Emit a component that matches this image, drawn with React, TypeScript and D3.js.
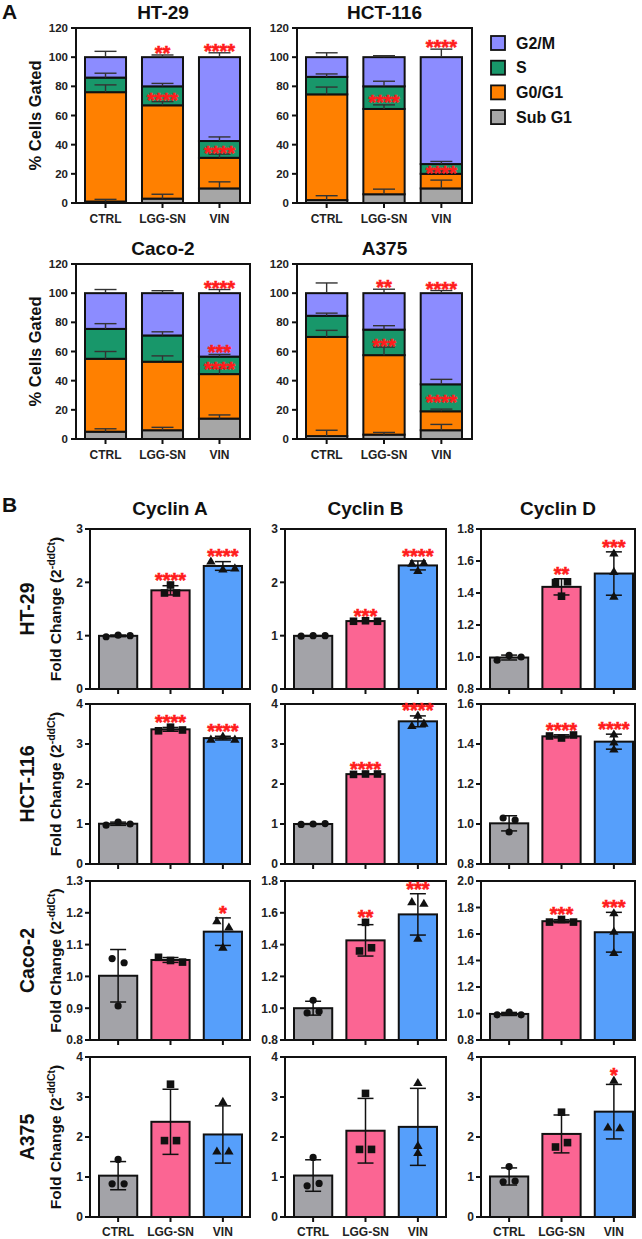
import React from "react";
import * as d3 from "d3";

const FONT = "'Liberation Sans', Arial, Helvetica, sans-serif";

// ---------- Panel A data ----------
const groups = ["CTRL", "LGG-SN", "VIN"];
const phases = ["Sub G1", "G0/G1", "S", "G2/M"];
const phaseColors = ["#a6a6a6", "#ff8000", "#18976a", "#8c8cff"];
const cellLinesA = ["HT-29", "HCT-116", "Caco-2", "A375"];
const yTicksA = [0, 20, 40, 60, 80, 100, 120];

// % cells per phase [Sub G1, G0/G1, S, G2/M] for CTRL, LGG-SN, VIN
const ht29Phases = [[1, 75, 10, 14], [3, 64, 13, 20], [10, 21, 11.5, 57.5]];
const ht29PhasesSD = [[1.5, 5, 3, 4], [3, 2.5, 2, 1.5], [4.5, 2.5, 2.8, 3]];
const hct116Phases = [[2, 72.5, 12, 13.5], [6, 58.5, 15.5, 20], [10, 10, 6.7, 73.3]];
const hct116PhasesSD = [[3, 5, 2, 3], [3.5, 2.8, 3.5, 1], [5.7, 2, 1.8, 5.5]];
const caco2Phases = [[5, 50, 20.5, 24.5], [6, 47, 18, 29], [14, 30.5, 12, 43.5]];
const caco2PhasesSD = [[2, 5, 3.6, 2.5], [2, 4, 2.5, 1.7], [2.5, 4, 1.5, 2.5]];
const a375Phases = [[2, 68, 14.5, 15.5], [3, 54.5, 17.5, 25], [6, 13, 18.5, 62.5]];
const a375PhasesSD = [[4, 4.5, 1.8, 7], [1.5, 5.5, 2.7, 2.7], [4, 1.5, 3.4, 1.8]];

// significance marks: [cell, group, phase, label, placement]
const sigA: [number, number, number, string, string][] = [
  [0, 1, 3, "**", "top"], [0, 2, 3, "****", "top"], [0, 1, 2, "****", "in"], [0, 2, 2, "****", "in"],
  [1, 2, 3, "****", "top"], [1, 1, 2, "****", "in"], [1, 2, 2, "****", "in"],
  [2, 2, 3, "****", "top"], [2, 2, 2, "***", "top"], [2, 2, 2, "****", "in"],
  [3, 1, 3, "**", "top"], [3, 2, 3, "****", "top"], [3, 1, 2, "***", "in"], [3, 2, 2, "****", "in"],
];

// ---------- Panel B data ----------
const cyclins = ["Cyclin A", "Cyclin B", "Cyclin D"];
const cellLinesB = ["HT-29", "HCT-116", "Caco-2", "A375"];
const groupColorsB = ["#a3a3a8", "#fb6593", "#569ffb"];

// replicate fold changes (3 per group) for CTRL, LGG-SN, VIN
const ht29CyclinA = [[0.98, 1.01, 1.0], [1.95, 1.8, 1.8], [2.4, 2.25, 2.27]];
const ht29CyclinB = [[0.99, 1.0, 1.0], [1.27, 1.28, 1.27], [2.36, 2.37, 2.22]];
const ht29CyclinD = [[0.98, 1.01, 1.0], [1.465, 1.47, 1.38], [1.535, 1.65, 1.38]];
const hct116CyclinA = [[0.97, 1.05, 1.0], [3.33, 3.42, 3.35], [3.12, 3.2, 3.12]];
const hct116CyclinB = [[0.99, 1.0, 1.01], [2.24, 2.25, 2.25], [3.46, 3.52, 3.72]];
const hct116CyclinD = [[1.03, 1.02, 0.96], [1.44, 1.43, 1.445], [1.45, 1.375, 1.41]];
const caco2CyclinA = [[1.056, 1.043, 0.907], [1.06, 1.05, 1.045], [1.175, 1.155, 1.092]];
const caco2CyclinB = [[1.05, 0.97, 0.98], [1.54, 1.36, 1.38], [1.67, 1.66, 1.44]];
const caco2CyclinD = [[0.99, 1.01, 0.99], [1.69, 1.71, 1.69], [1.76, 1.62, 1.46]];
const a375CyclinA = [[1.44, 0.83, 0.83], [3.32, 1.91, 1.91], [2.89, 1.65, 1.65]];
const a375CyclinB = [[1.49, 0.78, 0.84], [3.09, 1.69, 1.69], [3.36, 1.79, 1.61]];
const a375CyclinD = [[1.26, 0.88, 0.9], [2.62, 1.75, 1.86], [3.42, 2.25, 2.23]];

// y tick labels per row: [Cyclin A, Cyclin B, Cyclin D]
const ht29TicksB = [[0, 1, 2, 3], [0, 1, 2, 3], [0.8, 1.0, 1.2, 1.4, 1.6, 1.8]];
const hct116TicksB = [[0, 1, 2, 3, 4], [0, 1, 2, 3, 4], [0.8, 1.0, 1.2, 1.4, 1.6]];
const caco2TicksB = [[0.8, 0.9, 1.0, 1.1, 1.2, 1.3], [0.8, 1.0, 1.2, 1.4, 1.6, 1.8], [0.8, 1.0, 1.2, 1.4, 1.6, 1.8, 2.0]];
const a375TicksB = [[0, 1, 2, 3, 4], [0, 1, 2, 3, 4], [0, 1, 2, 3, 4]];

// significance marks: [row, col, group, label]
const sigB: [number, number, number, string][] = [
  [0, 0, 1, "****"], [0, 0, 2, "****"], [0, 1, 1, "***"], [0, 1, 2, "****"], [0, 2, 1, "**"], [0, 2, 2, "***"],
  [1, 0, 1, "****"], [1, 0, 2, "****"], [1, 1, 1, "****"], [1, 1, 2, "****"], [1, 2, 1, "****"], [1, 2, 2, "****"],
  [2, 0, 2, "*"], [2, 1, 1, "**"], [2, 1, 2, "***"], [2, 2, 1, "***"], [2, 2, 2, "***"],
  [3, 2, 2, "*"],
];

// ---------- tables built from arrays ----------
const phaseTable = [ht29Phases, hct116Phases, caco2Phases, a375Phases];
const phaseSDTable = [ht29PhasesSD, hct116PhasesSD, caco2PhasesSD, a375PhasesSD];
const cyclinTable = [
  [ht29CyclinA, ht29CyclinB, ht29CyclinD],
  [hct116CyclinA, hct116CyclinB, hct116CyclinD],
  [caco2CyclinA, caco2CyclinB, caco2CyclinD],
  [a375CyclinA, a375CyclinB, a375CyclinD],
];
const tickTable = [ht29TicksB, hct116TicksB, caco2TicksB, a375TicksB];

// ---------- layout ----------
const W = 642, H = 1239;
const frameAX = [[76, 250], [297, 472]];
const frameAY = [[28, 203], [264, 439]];
const frameBX = [[90, 250], [285, 446], [481, 635]];
const frameBY = [[529, 689], [704, 864], [881, 1040], [1057, 1217]];
const STAR_FS = 20;
const RED = "#ff1c1c";

function Stars({ x, cy, label }: { x: number; cy: number; label: string }) {
  return (
    <text x={x} y={cy + STAR_FS * 0.6} textAnchor="middle" fontSize={STAR_FS} fontWeight="bold" fill={RED}
      stroke={RED} strokeWidth={0.6} fontFamily={FONT}>
      {label}
    </text>
  );
}

function PanelA() {
  const out: any[] = [];
  cellLinesA.forEach((cell, ci) => {
    const col = ci % 2, row = Math.floor(ci / 2);
    const [x0, x1] = frameAX[col];
    const [y0, y1] = frameAY[row];
    const y = d3.scaleLinear().domain([0, 120]).range([y1, y0]);
    const x = d3.scaleBand().domain(groups).range([x0 + 9, x1 - 10]).paddingInner(0.28);
    const bw = x.bandwidth();
    const vals = phaseTable[ci];
    const sds = phaseSDTable[ci];
    const tops = vals.map((v) => d3.cumsum(v));
    const g: any[] = [];
    g.push(<rect key="f" x={x0} y={y0} width={x1 - x0} height={y1 - y0} fill="none" stroke="#111" strokeWidth={2} />);
    groups.forEach((gr, gi) => {
      const bx = x(gr)!;
      vals[gi].forEach((v, pi) => {
        const top = tops[gi][pi];
        const bottom = top - v;
        g.push(
          <rect key={`r${gi}-${pi}`} x={bx} y={y(top)} width={bw} height={y(bottom) - y(top)}
            fill={phaseColors[pi]} stroke="#111" strokeWidth={2} />
        );
      });
    });
    groups.forEach((gr, gi) => {
      const cx = x(gr)! + bw / 2;
      vals[gi].forEach((v, pi) => {
        const top = tops[gi][pi];
        const e = sds[gi][pi];
        g.push(
          <g key={`e${gi}-${pi}`} stroke="#333" strokeWidth={1.4}>
            <line x1={cx} x2={cx} y1={y(top)} y2={y(top + e)} />
            <line x1={cx - 11} x2={cx + 11} y1={y(top + e)} y2={y(top + e)} />
          </g>
        );
      });
    });
    yTicksA.forEach((t) => {
      g.push(<line key={`yt${t}`} x1={x0 - 5} x2={x0} y1={y(t)} y2={y(t)} stroke="#111" strokeWidth={2} />);
      g.push(
        <text key={`yl${t}`} x={x0 - 8} y={y(t)} dy="0.36em" textAnchor="end" fontSize={11.5} fontWeight="bold" fontFamily={FONT} fill="#222">
          {t}
        </text>
      );
    });
    groups.forEach((gr) => {
      const cx = x(gr)! + bw / 2;
      g.push(<line key={`xt${gr}`} x1={cx} x2={cx} y1={y1} y2={y1 + 5} stroke="#111" strokeWidth={2} />);
      g.push(
        <text key={`xl${gr}`} x={cx} y={y1 + 20} textAnchor="middle" fontSize={12} fontWeight="bold" fontFamily={FONT} fill="#222">
          {gr}
        </text>
      );
    });
    g.push(
      <text key="title" x={(x0 + x1) / 2} y={y0 - 9} textAnchor="middle" fontSize={19} fontWeight="bold" fontFamily={FONT} fill="#111">
        {cell}
      </text>
    );
    if (col === 0) {
      g.push(
        <text key="ylab" transform={`translate(41,${(y0 + y1) / 2}) rotate(-90)`} textAnchor="middle" fontSize={16.5} fontWeight="bold" fontFamily={FONT} fill="#111">
          % Cells Gated
        </text>
      );
    }
    sigA.filter((s) => s[0] === ci).forEach((s, k) => {
      const [, gi, pi, label, place] = s;
      const cx = x(groups[gi])! + bw / 2;
      const top = tops[gi][pi];
      let cy: number;
      if (place === "top") cy = y(top + sds[gi][pi]) - 7;
      else cy = (y(top) + y(top - vals[gi][pi])) / 2 - 1;
      g.push(<Stars key={`s${k}`} x={cx} cy={cy} label={label} />);
    });
    out.push(<g key={cell}>{g}</g>);
  });
  const legendOrder = [3, 2, 1, 0];
  legendOrder.forEach((pi, i) => {
    const cy = 43 + i * 24.7;
    out.push(
      <g key={`leg${pi}`}>
        <rect x={491} y={cy - 7} width={14} height={14} fill={phaseColors[pi]} stroke="#111" strokeWidth={1.8} />
        <text x={516} y={cy} dy="0.36em" fontSize={16} fontWeight="bold" fontFamily={FONT} fill="#111">
          {phases[pi]}
        </text>
      </g>
    );
  });
  out.push(
    <text key="A" x={2} y={19} fontSize={21} fontWeight="bold" fontFamily={FONT} fill="#111">A</text>
  );
  return <g>{out}</g>;
}

function Marker({ kind, x, y }: { kind: number; x: number; y: number }) {
  if (kind === 0) return <circle cx={x} cy={y} r={3.6} fill="#111" />;
  if (kind === 1) return <rect x={x - 3.8} y={y - 3.8} width={7.6} height={7.6} fill="#111" />;
  const p = d3.symbol().type(d3.symbolTriangle).size(38)()!;
  return <path d={p} transform={`translate(${x},${y + 0.8})`} fill="#111" />;
}

function PanelB() {
  const out: any[] = [];
  cellLinesB.forEach((cell, ri) => {
    const [y0, y1] = frameBY[ri];
    cyclins.forEach((cyc, ci) => {
      const [x0, x1] = frameBX[ci];
      const ticks = tickTable[ri][ci];
      const dom = d3.extent(ticks) as [number, number];
      const y = d3.scaleLinear().domain(dom).range([y1, y0]);
      const x = d3.scaleBand().domain(groups).range([x0 + 9, x0 + 152]).paddingInner(0.27);
      const bw = x.bandwidth();
      const fmt = ticks.some((t) => !Number.isInteger(t)) ? d3.format(".1f") : d3.format("d");
      const data = cyclinTable[ri][ci];
      const g: any[] = [];
      g.push(<rect key="f" x={x0} y={y0} width={x1 - x0} height={y1 - y0} fill="none" stroke="#111" strokeWidth={2} />);
      const stats = data.map((pts) => ({ m: d3.mean(pts)!, sd: d3.deviation(pts)! }));
      groups.forEach((gr, gi) => {
        const bx = x(gr)!;
        const { m } = stats[gi];
        g.push(
          <rect key={`b${gi}`} x={bx} y={y(m)} width={bw} height={y1 - y(m)} fill={groupColorsB[gi]} stroke="#111" strokeWidth={2} />
        );
      });
      groups.forEach((gr, gi) => {
        const cx = x(gr)! + bw / 2;
        const { m, sd } = stats[gi];
        const lo = Math.max(m - sd, dom[0]);
        g.push(
          <g key={`e${gi}`} stroke="#111" strokeWidth={1.5}>
            <line x1={cx} x2={cx} y1={y(lo)} y2={y(m + sd)} />
            <line x1={cx - 8} x2={cx + 8} y1={y(m + sd)} y2={y(m + sd)} />
            {m - sd > dom[0] && <line x1={cx - 8} x2={cx + 8} y1={y(m - sd)} y2={y(m - sd)} />}
          </g>
        );
        const pts = data[gi].map((v, i) => ({ v, py: y(v), i }));
        const sorted = [...pts].sort((a, b) => a.py - b.py);
        const clusters: typeof pts[] = [];
        sorted.forEach((p) => {
          const last = clusters[clusters.length - 1];
          if (last && Math.abs(p.py - last[last.length - 1].py) < 7) last.push(p);
          else clusters.push([p]);
        });
        clusters.forEach((cl, k) => {
          const n = cl.length;
          const ordered = [...cl].sort((a, b) => a.i - b.i);
          ordered.forEach((p, j) => {
            const off = n === 1 ? 0 : (j - (n - 1) / 2) * 12;
            g.push(<Marker key={`m${gi}-${k}-${j}`} kind={gi} x={cx + off} y={p.py} />);
          });
        });
      });
      ticks.forEach((t) => {
        g.push(<line key={`yt${t}`} x1={x0 - 5} x2={x0} y1={y(t)} y2={y(t)} stroke="#111" strokeWidth={2} />);
        g.push(
          <text key={`yl${t}`} x={x0 - 7} y={y(t)} dy="0.36em" textAnchor="end" fontSize={12} fontWeight="bold" fontFamily={FONT} fill="#222">
            {fmt(t)}
          </text>
        );
      });
      groups.forEach((gr) => {
        const cx = x(gr)! + bw / 2;
        g.push(<line key={`xt${gr}`} x1={cx} x2={cx} y1={y1} y2={y1 + 5} stroke="#111" strokeWidth={2} />);
        if (ri === cellLinesB.length - 1) {
          g.push(
            <text key={`xl${gr}`} x={cx} y={y1 + 19} textAnchor="middle" fontSize={12} fontWeight="bold" fontFamily={FONT} fill="#222">
              {gr}
            </text>
          );
        }
      });
      if (ri === 0) {
        g.push(
          <text key="title" x={(x0 + x1) / 2} y={y0 - 14} textAnchor="middle" fontSize={19} fontWeight="bold" fontFamily={FONT} fill="#111">
            {cyc}
          </text>
        );
      }
      sigB.filter((s) => s[0] === ri && s[1] === ci).forEach((s, k) => {
        const gi = s[2];
        const { m, sd } = stats[gi];
        const topV = Math.max(m + sd, d3.max(data[gi])!);
        const cx = x(groups[gi])! + bw / 2;
        g.push(<Stars key={`s${k}`} x={cx} cy={y(topV) - 10} label={s[3]} />);
      });
      out.push(<g key={`${cell}-${cyc}`}>{g}</g>);
    });
    const mid = (y0 + y1) / 2;
    out.push(
      <text key={`row${cell}`} transform={`translate(34,${mid}) rotate(-90)`} textAnchor="middle" fontSize={19.5} fontWeight="bold" fontFamily={FONT} fill="#111">
        {cell}
      </text>
    );
    out.push(
      <text key={`fc${cell}`} transform={`translate(61,${mid}) rotate(-90)`} textAnchor="middle" fontSize={15.5} fontWeight="bold" fontFamily={FONT} fill="#111">
        Fold Change (2<tspan fontSize={10.5} dy={-6}>-ddCt</tspan><tspan dy={6}>)</tspan>
      </text>
    );
  });
  out.push(
    <text key="B" x={2} y={512} fontSize={21} fontWeight="bold" fontFamily={FONT} fill="#111">B</text>
  );
  return <g>{out}</g>;
}

export default function App() {
  return (
    <svg width={W} height={H} style={{ position: "absolute", left: 0, top: 0, background: "#fff" }}>
      <rect width={W} height={H} fill="#fff" />
      <PanelA />
      <PanelB />
    </svg>
  );
}
